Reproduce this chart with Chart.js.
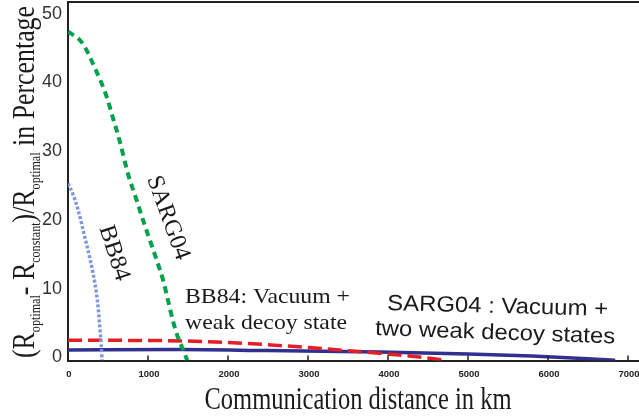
<!DOCTYPE html>
<html><head><meta charset="utf-8">
<script src="https://cdn.jsdelivr.net/npm/chart.js@4"></script>
<style>html,body{margin:0;padding:0;background:#fff;}canvas{display:block;}</style>
</head><body>
<canvas id="c" width="639" height="419"></canvas>
<script>
// ---- data (distance in km, difference in %) ----
const sargX = [0, 175, 340, 490, 550, 650, 750, 860, 940, 1025, 1110, 1190, 1250, 1310, 1375, 1425, 1490];
const sargY = [47.4, 45.8, 42.0, 37.7, 35.3, 31.3, 26.7, 22.8, 19.9, 17.0, 14.1, 11.2, 8.3, 5.4, 2.9, 1.5, -0.4];
const bbX = [0, 60, 125, 210, 280, 340, 375, 400, 420, 425];
const bbY = [25.3, 23.8, 21.5, 17.5, 14.1, 10.5, 7.5, 4.0, 1.0, -0.4];
const bbDecoyX = [0, 1200, 2200, 3000, 3700, 4200, 4720];
const bbDecoyY = [2.5, 2.45, 2.05, 1.45, 0.8, 0.3, -0.4];
const sargDecoyX = [0, 1400, 2500, 3900, 5000, 5800, 6840];
const sargDecoyY = [1.1, 1.15, 1.0, 0.8, 0.5, 0.2, -0.4];
const xTicks = [0, 1000, 2000, 3000, 4000, 5000, 6000, 7000];
const yTicks = [0, 10, 20, 30, 40, 50];

const pts = (xs, ys) => xs.map((x, i) => ({x: x, y: ys[i]}));

function drawFit(ctx, text, font, x, y, w, align, rot) {
  ctx.save();
  ctx.font = font;
  const nat = ctx.measureText(text).width;
  const s = w ? w / nat : 1;
  ctx.translate(x, y);
  if (rot) ctx.rotate(rot);
  ctx.scale(s, 1);
  ctx.textAlign = align || 'left';
  ctx.textBaseline = 'alphabetic';
  ctx.fillText(text, 0, 0);
  ctx.restore();
}

const decor = {
  id: 'decor',
  afterDraw(chart) {
    const ctx = chart.ctx, a = chart.chartArea;
    const xs = chart.scales.x, ys = chart.scales.y;
    ctx.save();
    ctx.strokeStyle = '#222';
    ctx.lineWidth = 2;
    ctx.beginPath();
    ctx.moveTo(a.left - 1, a.top);
    ctx.lineTo(a.right, a.top);
    ctx.stroke();
    ctx.lineWidth = 1.5;
    xTicks.forEach(v => {
      if (v === 0) return;
      const px = xs.getPixelForValue(v);
      ctx.beginPath();
      ctx.moveTo(px, a.bottom);
      ctx.lineTo(px, a.bottom - 5);
      ctx.stroke();
    });
    // tick labels
    ctx.fillStyle = '#222';
    ctx.font = 'bold 9.5px "Liberation Sans"';
    ctx.textAlign = 'center';
    ctx.textBaseline = 'top';
    xTicks.forEach(v => { ctx.fillText(String(v), xs.getPixelForValue(v) + 1, a.bottom + 9); });
    ctx.fillStyle = '#333';
    ctx.font = '18px "Liberation Sans"';
    ctx.textAlign = 'right';
    ctx.textBaseline = 'middle';
    yTicks.forEach(v => { ctx.fillText(String(v), a.left - 6, ys.getPixelForValue(v)); });

    ctx.fillStyle = '#1a1a1a';
    // y title with subscripts
    const segs = [
      ['(R', 32, 0], ['optimal', 15, 6], ['- R', 32, 0], ['constant', 15, 6],
      [')/R', 32, 0], ['optimal', 15, 6], [' in Percentage', 32, 0]
    ];
    let tot = 0;
    ctx.textAlign = 'left';
    ctx.textBaseline = 'alphabetic';
    segs.forEach(sg => { ctx.font = sg[1] + 'px "Liberation Serif"'; sg.push(ctx.measureText(sg[0]).width); tot += sg[3]; });
    const sc = 352 / tot;
    ctx.save();
    ctx.translate(34, 358);
    ctx.rotate(-Math.PI / 2);
    ctx.scale(sc, 1);
    let cx = 0;
    segs.forEach(sg => {
      ctx.font = sg[1] + 'px "Liberation Serif"';
      ctx.fillText(sg[0], cx, sg[2]);
      cx += sg[3];
    });
    ctx.restore();
    // x title
    drawFit(ctx, 'Communication distance in km', '32px "Liberation Serif"', 358, 409, 307, 'center');
    // annotations
    drawFit(ctx, 'SARG04', '24px "Liberation Serif"', 162, 220, 88, 'center', 70 * Math.PI / 180);
    drawFit(ctx, 'BB84', '24px "Liberation Serif"', 108, 255, 57, 'center', 72 * Math.PI / 180);
    drawFit(ctx, 'BB84: Vacuum +', '22px "Liberation Serif"', 185, 303, 165, 'left');
    drawFit(ctx, 'weak decoy state', '22px "Liberation Serif"', 185, 329, 162, 'left');
    drawFit(ctx, 'SARG04 : Vacuum +', '22px "Liberation Sans"', 387, 310, 221, 'left', 1.5 * Math.PI / 180);
    drawFit(ctx, 'two weak decoy states', '22px "Liberation Sans"', 375, 335, 240, 'left', 2 * Math.PI / 180);
    ctx.restore();
  }
};

new Chart(document.getElementById('c'), {
  type: 'line',
  data: {
    datasets: [
      {label: 'SARG04', data: pts(sargX, sargY), borderColor: '#00a14b', borderWidth: 4, borderDash: [7, 5], borderCapStyle: 'butt', pointRadius: 0, cubicInterpolationMode: 'monotone', fill: false},
      {label: 'BB84', data: pts(bbX, bbY), borderColor: '#7f98d8', borderWidth: 3.5, borderDash: [3, 2], pointRadius: 0, cubicInterpolationMode: 'monotone', fill: false},
      {label: 'BB84: Vacuum + weak decoy state', data: pts(bbDecoyX, bbDecoyY), borderColor: '#e31e24', borderWidth: 3.5, borderDash: [14, 6], pointRadius: 0, cubicInterpolationMode: 'monotone', fill: false},
      {label: 'SARG04 : Vacuum + two weak decoy states', data: pts(sargDecoyX, sargDecoyY), borderColor: '#31308f', borderWidth: 3.5, pointRadius: 0, cubicInterpolationMode: 'monotone', fill: false}
    ]
  },
  options: {
    responsive: false,
    animation: false,
    layout: {padding: {top: 2, right: 0, left: 0, bottom: 0}},
    plugins: {legend: {display: false}, tooltip: {enabled: false}},
    scales: {
      x: {
        type: 'linear', min: 0, max: 7137,
        afterBuildTicks: s => { s.ticks = xTicks.map(v => ({value: v})); },
        afterFit: s => { s.height = 58.5; },
        ticks: {display: false},
        grid: {display: false, drawTicks: false},
        border: {display: true, color: '#222', width: 2}
      },
      y: {
        type: 'linear', min: -0.44, max: 51.7,
        afterBuildTicks: s => { s.ticks = yTicks.map(v => ({value: v})); },
        afterFit: s => { s.width = 68; },
        ticks: {display: false},
        grid: {display: false, drawTicks: false},
        border: {display: true, color: '#222', width: 2}
      }
    }
  },
  plugins: [decor]
});
</script>
</body></html>
